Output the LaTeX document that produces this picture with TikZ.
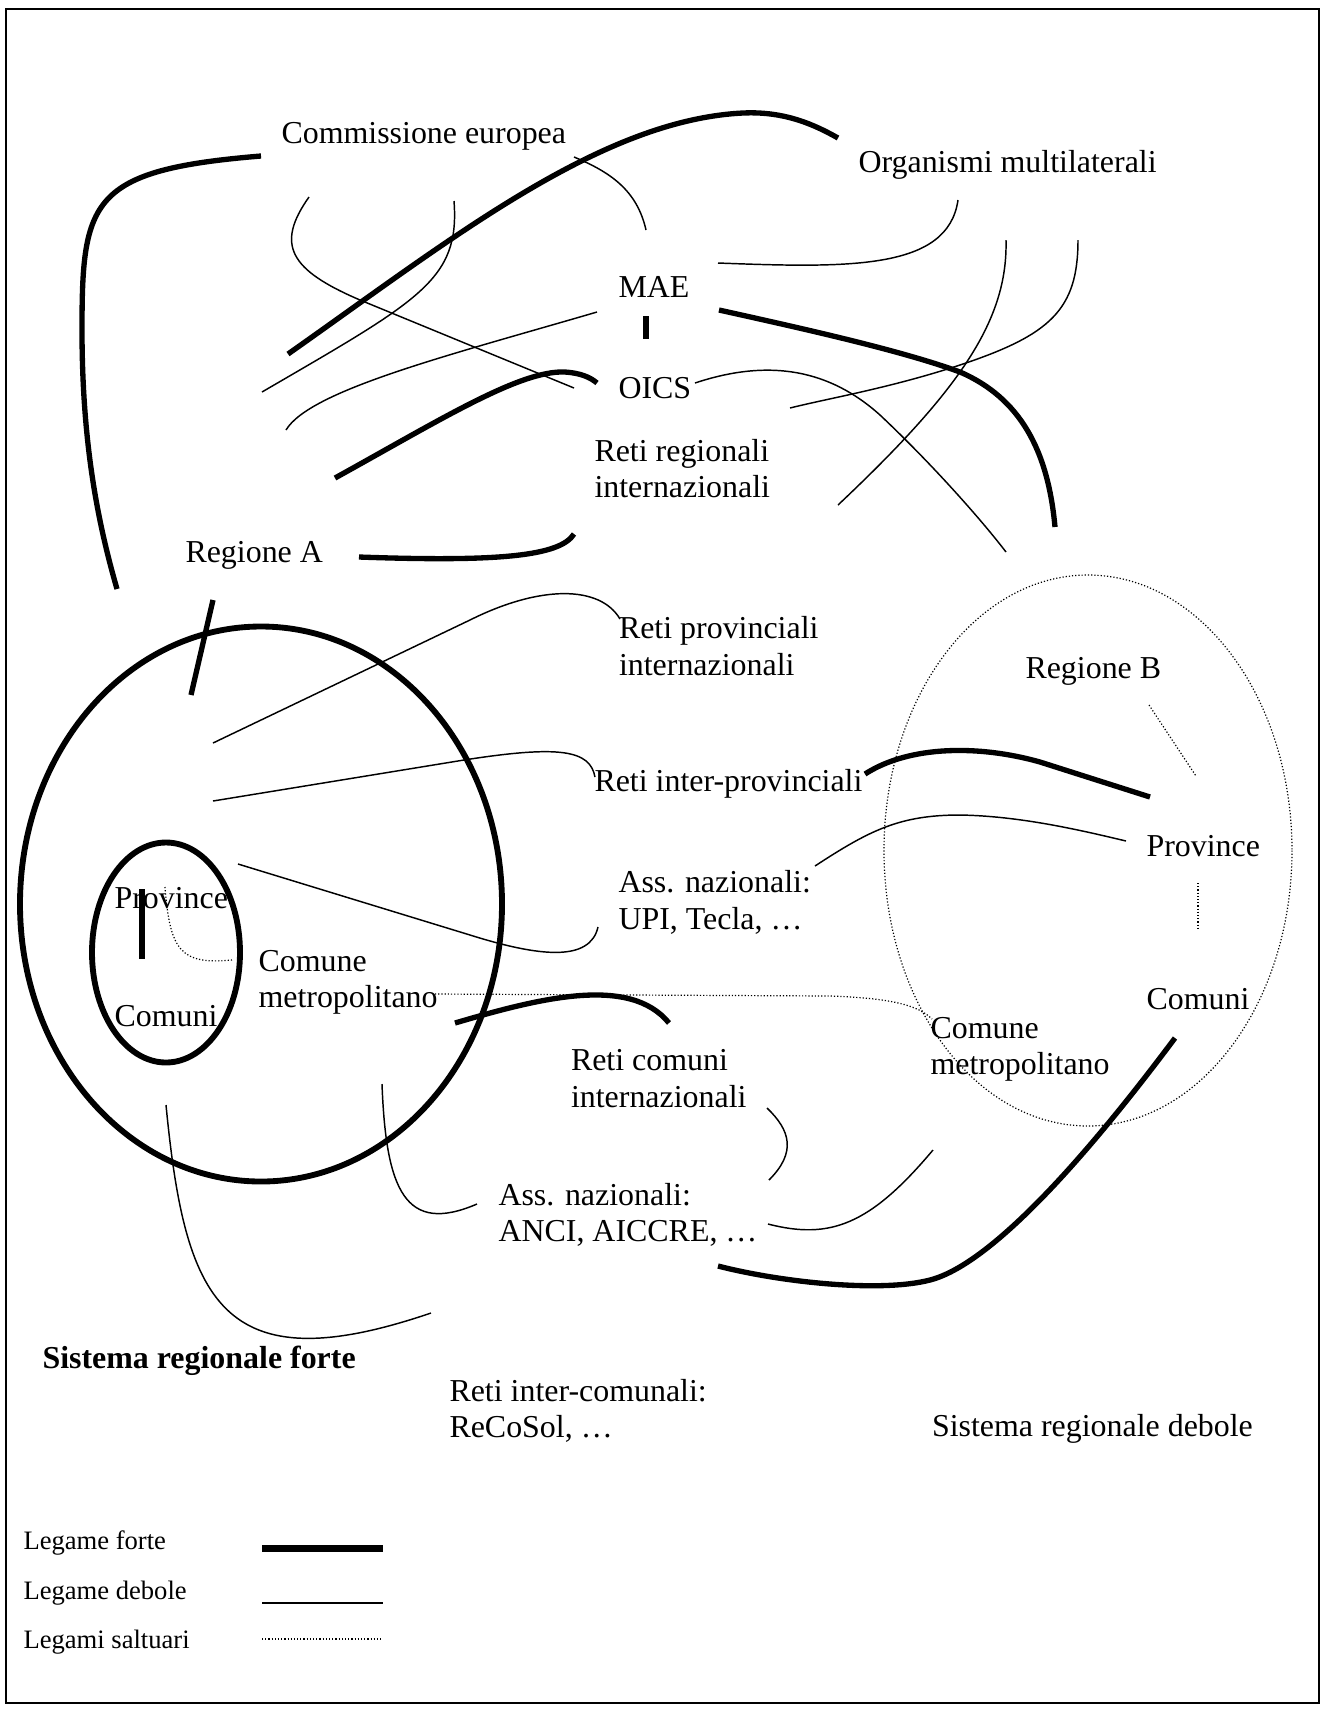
\documentclass[tikz,border=0pt]{standalone}
\usepackage{fontspec}
\setmainfont{Liberation Serif}
\usetikzlibrary{positioning}

\begin{document}
\begin{tikzpicture}[x=0.376pt, y=-0.376pt,
    lbl/.style={anchor=base west, inner sep=0pt, align=left, font=\fontsize{12}{13.8}\selectfont},
    leg/.style={anchor=base west, inner sep=0pt, font=\fontsize{10}{12}\selectfont},
    forte/.style={line width=2pt},
    debole/.style={line width=0.55pt},
    saltuario/.style={line width=0.45pt, dash pattern=on 0.45pt off 0.75pt}
]

\useasboundingbox (0,0) rectangle (1324,1709);
\draw[line width=0.8pt] (6,9) rectangle (1319,1703);

% Sistemi regionali
\draw[line width=2.2pt] (261,904) ellipse [x radius=241, y radius=277.5];
\draw[line width=2.2pt] (166,952.5) ellipse [x radius=74, y radius=110];
\draw[saltuario] (1088,850.5) ellipse [x radius=204, y radius=275.5];

% Nodi (per i testi su due righe: linea di base dell'ultima riga)
\node[lbl] (comm) at (281,143.5) {Commissione europea};
\node[lbl] (multi) at (858,172) {Organismi multilaterali};
\node[lbl] (mae) at (618,297) {MAE};
\node[lbl] (oics) at (618,398) {OICS};
\node[lbl] (retireg) at (594,497.7) {Reti regionali\\internazionali};
\node[lbl] (regA) at (185,562.5) {Regione A};
\node[lbl] (retiprov) at (618.5,675.5) {Reti provinciali\\internazionali};
\node[lbl] (interprov) at (594,791) {Reti inter-provinciali};
\node[lbl] (assupi) at (618,929.2) {Ass. nazionali:\\UPI, Tecla, …};
\node[lbl] (provA) at (114,908) {Province};
\node[lbl] (metroA) at (258,1007.7) {Comune\\metropolitano};
\node[lbl] (comA) at (114,1026.5) {Comuni};
\node[lbl] (regB) at (1025,678) {Regione B};
\node[lbl] (provB) at (1146,856) {Province};
\node[lbl] (comB) at (1146,1009) {Comuni};
\node[lbl] (metroB) at (930,1074.7) {Comune\\metropolitano};
\node[lbl] (reticom) at (570.5,1107.2) {Reti comuni\\internazionali};
\node[lbl] (assanci) at (498,1241.7) {Ass. nazionali:\\ANCI, AICCRE, …};
\node[lbl, font=\fontsize{12}{13.8}\selectfont\bfseries] (sisforte) at (42,1368) {Sistema regionale forte};
\node[lbl] (intercom) at (449,1437.7) {Reti inter-comunali:\\ReCoSol, …};
\node[lbl] (sisdebole) at (931.5,1436) {Sistema regionale debole};

% Legami forti
\draw[forte] (261,156) .. controls (90,170) and (82,200) .. (82,330)
    .. controls (82,450) and (100,530) .. (117,589);
\draw[forte] (288,354) .. controls (450,240) and (600,120) .. (743,113)
    .. controls (785,111) and (815,125) .. (838,138);
\draw[forte] (646,316) -- (646,339);
\draw[forte] (335,478) .. controls (440,420) and (520,370) .. (565,372)
    .. controls (580,373) and (590,377) .. (597,383);
\draw[forte] (359,557) .. controls (500,562) and (560,556) .. (574,534);
\draw[forte] (213,600) -- (191,695);
\draw[forte] (719,310) .. controls (800,328) and (900,350) .. (960,372)
    .. controls (1020,398) and (1048,450) .. (1055,527);
\draw[forte] (865,774) .. controls (910,745) and (980,745) .. (1040,762) -- (1150,797);
\draw[forte] (455,1023) .. controls (540,998) and (630,975) .. (669,1023);
\draw[forte] (1175,1038) .. controls (1110,1125) and (1000,1262) .. (930,1280)
    .. controls (880,1293) and (780,1282) .. (718,1266);
\draw[line width=2.2pt] (142,889) -- (142,959);

% Legami deboli
\draw[debole] (309,197) .. controls (275,245) and (290,270) .. (360,300) -- (574,388);
\draw[debole] (454,201) .. controls (460,280) and (420,300) .. (262,392);
\draw[debole] (574,157) .. controls (610,172) and (637,190) .. (646,230);
\draw[debole] (597,312) .. controls (450,355) and (310,390) .. (286,430);
\draw[debole] (718,263) .. controls (850,268) and (948,270) .. (958,200);
\draw[debole] (695,383) .. controls (770,358) and (830,370) .. (880,415)
    .. controls (930,462) and (980,518) .. (1006,552);
\draw[debole] (1006,240) .. controls (1008,320) and (960,390) .. (838,505);
\draw[debole] (1078,240) .. controls (1078,310) and (1050,335) .. (960,365)
    .. controls (890,388) and (830,398) .. (790,408);
\draw[debole] (213,743) -- (470,620) .. controls (540,585) and (600,585) .. (620,619);
\draw[debole] (213,801) -- (464,760) .. controls (560,745) and (590,750) .. (595,777);
\draw[debole] (238,864) -- (470,935) .. controls (540,957) and (590,962) .. (598,927);
\draw[debole] (815,866) .. controls (870,830) and (900,815) .. (960,815)
    .. controls (1020,816) and (1080,830) .. (1126,841);
\draw[debole] (767,1108) .. controls (790,1130) and (797,1152) .. (769,1180);
\draw[debole] (768,1224) .. controls (830,1240) and (870,1225) .. (933,1150);
\draw[debole] (382,1084) .. controls (386,1190) and (405,1235) .. (477,1204);
\draw[debole] (166,1105) .. controls (185,1300) and (220,1385) .. (431,1313);

% Legami saltuari
\draw[saltuario] (165,887) .. controls (170,950) and (180,965) .. (232,960);
\draw[saltuario] (435,994) -- (830,996) .. controls (890,998) and (918,1005) .. (932,1019);
\draw[saltuario] (1149,705) -- (1196,776);
\draw[saltuario] (1198,883) -- (1198,929);

% Legenda
\node[leg] (lforte) at (23,1549) {Legame forte};
\node[leg] (ldebole) at (23,1599) {Legame debole};
\node[leg] (lsalt) at (23,1648) {Legami saltuari};
\draw[line width=2.8pt] (262,1548.5) -- (383,1548.5);
\draw[line width=0.7pt] (262,1603) -- (383,1603);
\draw[saltuario] (262,1639) -- (383,1639);

\end{tikzpicture}
\end{document}
